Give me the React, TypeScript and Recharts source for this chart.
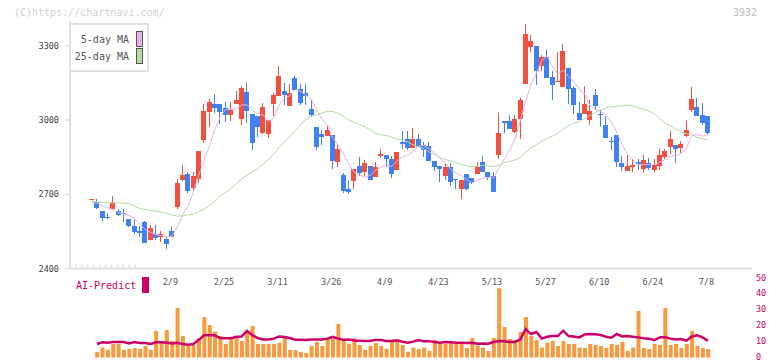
import React from 'react';
import { ComposedChart, Bar, Line, XAxis, YAxis } from 'recharts';

// trading days shown on the chart
const dates = [
  '1/19', '1/20', '1/21', '1/22', '1/23', '1/26', '1/27', '1/28', '1/29', '1/30',
  '2/2', '2/3', '2/4', '2/5', '2/6', '2/9', '2/10', '2/12', '2/13', '2/16',
  '2/17', '2/18', '2/19', '2/20', '2/24', '2/25', '2/26', '2/27', '3/2', '3/3',
  '3/4', '3/5', '3/6', '3/9', '3/10', '3/11', '3/12', '3/13', '3/16', '3/17',
  '3/18', '3/19', '3/23', '3/24', '3/25', '3/26', '3/27', '3/30', '3/31', '4/1',
  '4/2', '4/3', '4/6', '4/7', '4/8', '4/9', '4/10', '4/13', '4/14', '4/15',
  '4/16', '4/17', '4/20', '4/21', '4/22', '4/23', '4/24', '4/27', '4/28', '4/30',
  '5/1', '5/7', '5/8', '5/11', '5/12', '5/13', '5/14', '5/15', '5/18', '5/19',
  '5/20', '5/21', '5/22', '5/25', '5/26', '5/27', '5/28', '5/29', '6/1', '6/2',
  '6/3', '6/4', '6/5', '6/8', '6/9', '6/10', '6/11', '6/12', '6/15', '6/16',
  '6/17', '6/18', '6/19', '6/22', '6/23', '6/24', '6/25', '6/26', '6/29', '6/30',
  '7/1', '7/2', '7/3', '7/6', '7/7', '7/8',
];

const opens = [
  2678, 2670, 2634, 2610, 2641, 2634, 2626, 2600, 2573, 2553,
  2589, 2514, 2541, 2526, 2521, 2552, 2650, 2758, 2782, 2724,
  2762, 2919, 3034, 3066, 3066, 3047, 3020, 3066, 3005, 3113,
  3024, 3017, 2949, 2943, 3066, 3098, 3118, 3056, 3170, 3125,
  3110, 3044, 2972, 2943, 2937, 2941, 2830, 2778, 2721, 2755,
  2813, 2789, 2814, 2771, 2856, 2859, 2843, 2800, 2912, 2923,
  2888, 2923, 2899, 2895, 2834, 2814, 2775, 2810, 2760, 2720,
  2782, 2766, 2783, 2830, 2790, 2774, 2860, 2996, 2996, 2951,
  3003, 3147, 3296, 3299, 3219, 3254, 3174, 3157, 3134, 3210,
  3129, 3028, 3026, 3001, 3101, 3026, 2980, 2916, 2939, 2826,
  2795, 2812, 2832, 2803, 2826, 2799, 2816, 2852, 2892, 2899,
  2888, 2935, 3040, 3052, 3020, 3016,
];

const highs = [
  2681, 2680, 2634, 2623, 2693, 2641, 2641, 2600, 2596, 2573,
  2592, 2575, 2576, 2552, 2529, 2569, 2760, 2818, 2790, 2790,
  2876, 3063, 3083, 3106, 3066, 3071, 3071, 3117, 3138, 3149,
  3024, 3017, 3070, 3000, 3110, 3219, 3151, 3145, 3179, 3145,
  3145, 3081, 2972, 2960, 2978, 2941, 2899, 2787, 2758, 2802,
  2852, 2838, 2814, 2830, 2883, 2859, 2855, 2871, 2957, 2955,
  2968, 2945, 2912, 2912, 2834, 2814, 2828, 2828, 2760, 2758,
  2782, 2766, 2830, 2855, 2790, 2790, 3028, 2996, 3019, 3020,
  3087, 3387, 3343, 3299, 3262, 3283, 3198, 3276, 3308, 3210,
  3137, 3073, 3137, 3081, 3124, 3040, 3016, 2933, 2939, 2855,
  2859, 2842, 2842, 2859, 2847, 2842, 2883, 2883, 2956, 2899,
  2915, 2996, 3132, 3091, 3067, 3016,
];

const lows = [
  2678, 2641, 2593, 2599, 2640, 2614, 2589, 2570, 2538, 2529,
  2503, 2514, 2514, 2509, 2481, 2527, 2640, 2752, 2707, 2717,
  2747, 2906, 2973, 3027, 2986, 2993, 2996, 3066, 2978, 2989,
  2880, 2931, 2943, 2927, 3016, 3098, 3062, 3056, 3122, 3061,
  3059, 3013, 2880, 2899, 2937, 2804, 2810, 2704, 2700, 2723,
  2773, 2773, 2759, 2771, 2848, 2810, 2766, 2800, 2882, 2879,
  2888, 2892, 2852, 2834, 2795, 2751, 2758, 2733, 2720, 2681,
  2717, 2742, 2783, 2789, 2758, 2711, 2844, 2949, 2965, 2947,
  2925, 3147, 3273, 3141, 3200, 3171, 3082, 3154, 3134, 3066,
  3026, 3001, 3026, 2980, 3040, 2973, 2926, 2879, 2812, 2795,
  2795, 2791, 2798, 2787, 2798, 2791, 2798, 2843, 2863, 2828,
  2868, 2932, 3034, 3017, 2980, 2939,
];

const closes = [
  2681, 2646, 2603, 2603, 2663, 2616, 2619, 2573, 2549, 2545,
  2505, 2565, 2522, 2540, 2501, 2529, 2744, 2778, 2715, 2774,
  2876, 3036, 3071, 3050, 3034, 3020, 3040, 3081, 3129, 3038,
  2909, 2972, 3052, 3000, 3101, 3179, 3102, 3109, 3122, 3070,
  3098, 3022, 2892, 2933, 2960, 2834, 2883, 2715, 2711, 2802,
  2786, 2826, 2759, 2810, 2863, 2843, 2783, 2871, 2902, 2888,
  2923, 2892, 2879, 2834, 2812, 2803, 2809, 2751, 2756, 2758,
  2721, 2747, 2810, 2789, 2771, 2711, 2947, 2989, 2965, 3004,
  3081, 3348, 3319, 3200, 3254, 3171, 3143, 3159, 3278, 3126,
  3062, 3001, 3064, 3036, 3056, 3019, 2929, 2913, 2832, 2812,
  2814, 2818, 2824, 2838, 2808, 2818, 2859, 2875, 2923, 2884,
  2903, 2960, 3085, 3017, 2989, 2946,
];

const ma5 = [
  2668, 2665, 2655, 2645, 2639, 2626, 2621, 2615, 2604, 2580,
  2558, 2547, 2537, 2535, 2527, 2531, 2567, 2618, 2653, 2708,
  2777, 2836, 2894, 2961, 3013, 3042, 3043, 3045, 3061, 3062,
  3039, 3026, 3020, 2994, 3007, 3061, 3087, 3098, 3123, 3116,
  3100, 3084, 3041, 3003, 2981, 2928, 2900, 2865, 2821, 2789,
  2779, 2768, 2777, 2797, 2809, 2820, 2812, 2834, 2852, 2857,
  2873, 2895, 2897, 2883, 2868, 2844, 2827, 2802, 2786, 2775,
  2759, 2747, 2758, 2765, 2768, 2766, 2806, 2841, 2877, 2923,
  2997, 3077, 3143, 3190, 3240, 3258, 3217, 3185, 3201, 3175,
  3154, 3125, 3106, 3058, 3044, 3035, 3021, 2991, 2950, 2901,
  2860, 2838, 2820, 2821, 2820, 2821, 2829, 2840, 2853, 2858,
  2864, 2885, 2937, 2941, 2935, 2942,
];

const ma25 = [
  2672, 2670, 2667, 2666, 2666, 2666, 2665, 2662, 2652, 2643,
  2638, 2635, 2632, 2628, 2623, 2617, 2612, 2613, 2617, 2620,
  2628, 2640, 2655, 2673, 2694, 2707, 2723, 2742, 2763, 2778,
  2790, 2804, 2823, 2841, 2863, 2890, 2912, 2935, 2959, 2981,
  3004, 3015, 3020, 3028, 3036, 3034, 3028, 3014, 3000, 2991,
  2982, 2973, 2960, 2947, 2940, 2938, 2930, 2923, 2919, 2911,
  2900, 2892, 2883, 2871, 2861, 2849, 2841, 2835, 2828, 2820,
  2815, 2810, 2814, 2817, 2815, 2812, 2817, 2827, 2833, 2838,
  2848, 2870, 2888, 2900, 2915, 2925, 2935, 2946, 2964, 2976,
  2987, 2994, 3007, 3018, 3030, 3042, 3049, 3053, 3055, 3057,
  3061, 3056, 3049, 3044, 3036, 3026, 3006, 2988, 2977, 2963,
  2952, 2944, 2942, 2930, 2925, 2920,
];

const volume = [
  null, 3.6, 6.5, 5.0, 8.6, 8.6, 5.0, 5.5, 6.1, 5.7,
  7.3, 5.0, 16.8, 9.4, 17.4, 10.5, 31.3, 13.6, 7.6, 8.0,
  12.4, 25.6, 20.6, 16.4, 13.6, 8.6, 12.8, 13.2, 10.5, 16.4,
  19.9, 8.6, 8.6, 8.6, 8.6, 9.4, 12.6, 4.8, 4.8, 3.6,
  2.9, 7.3, 10.1, 7.3, 11.8, 12.2, 21.2, 11.1, 8.6, 12.2,
  8.0, 5.0, 7.3, 9.2, 7.3, 5.6, 10.1, 11.1, 8.0, 3.8,
  6.5, 5.5, 6.5, 4.2, 11.1, 8.6, 8.6, 10.1, 8.6, 8.6,
  6.1, 12.4, 7.6, 6.5, 4.2, 12.4, 43.7, 19.3, 11.8, 11.1,
  16.2, 25.6, 13.6, 11.1, 6.5, 9.4, 10.7, 7.3, 10.5, 8.6,
  8.6, 6.5, 6.1, 8.6, 8.0, 7.3, 6.1, 8.6, 8.0, 10.1,
  4.2, 6.5, 29.4, 6.1, 5.5, 8.6, 8.0, 31.3, 8.0, 8.6,
  6.1, 8.6, 16.8, 7.3, 6.1, 5.5,
];

const predict = [
  null, 8.6, 9.7, 9.4, 9.9, 9.9, 9.9, 9.0, 9.9, 9.2,
  9.2, 8.6, 9.7, 9.7, 9.4, 9.0, 9.4, 8.6, 8.2, 8.6,
  11.1, 14.1, 14.1, 14.1, 12.4, 12.2, 12.2, 13.2, 13.4, 16.8,
  14.3, 12.4, 11.5, 11.5, 12.0, 13.4, 13.0, 12.4, 11.3, 11.3,
  11.1, 11.5, 11.5, 11.5, 12.0, 13.2, 12.0, 11.3, 11.5, 10.9,
  10.7, 10.5, 10.7, 11.1, 11.1, 10.5, 10.5, 10.9, 10.1, 9.4,
  10.1, 11.1, 10.3, 10.3, 9.9, 9.4, 9.9, 9.7, 9.4, 9.4,
  9.2, 9.4, 8.8, 9.0, 8.8, 9.9, 10.5, 10.3, 9.9, 9.9,
  11.5, 18.1, 14.9, 16.2, 12.0, 13.2, 13.6, 13.6, 17.0, 13.6,
  13.4, 12.8, 14.7, 14.9, 14.7, 14.3, 13.2, 12.6, 14.9, 13.4,
  13.6, 13.2, 12.8, 12.2, 12.0, 11.1, 12.8, 13.0, 12.0, 11.5,
  11.8, 10.7, 13.4, 14.1, 12.8, 10.7,
];

const dateTicks = [15, 25, 35, 45, 55, 65, 75, 85, 95, 105, 115];
const gridTicks = [0, 1, 2, 3, 4, 5, 6, 7, 8, 9, 10, 11];
const priceTicks = [2400, 2700, 3000, 3300];
const predictTicks = [0, 10, 20, 30, 40, 50];

const rows = dates.map((date, i) => ({
  i,
  date,
  open: opens[i],
  high: highs[i],
  low: lows[i],
  close: closes[i],
  ma5: ma5[i],
  ma25: ma25[i],
  vol: volume[i],
  ai: predict[i],
}));

const FONT = '"DejaVu Sans Mono", monospace';
const RED = '#f05040';
const BLUE = '#4080f0';
const AXIS = '#e0e0e0';
const CRIMSON = '#cc0066';
const X_DOMAIN: [number, number] = [-4.011, 123.228];

const Candle = (props: any) => {
  const { x, y, width, height, payload } = props;
  if (!payload) return null;
  const { open, close, high, low } = payload;
  const top = Math.min(y, y + height);
  const h = Math.abs(height);
  const cx = x + width / 2;
  const ppu = high > low ? h / (high - low) : 0;
  const yO = top + (high - open) * ppu;
  const yC = top + (high - close) * ppu;
  const color = close >= open ? RED : BLUE;
  const bTop = Math.min(yO, yC);
  const bH = Math.max(Math.abs(yO - yC), 1);
  return (
    <g shapeRendering="crispEdges">
      <rect x={cx - 0.5} y={top} width={1} height={Math.max(h, 1)} fill={color} />
      <rect x={cx - 2.5} y={bTop} width={5} height={bH} fill={color} />
    </g>
  );
};

const DateTick = (props: any) => {
  const { x, y, payload } = props;
  return (
    <text x={x - 1.5} y={y + 16.5} textAnchor="middle" fontSize={8.5} fill="#555" fontFamily={FONT}>
      {dates[payload.value]}
    </text>
  );
};

const GridTick = (props: any) => {
  const { x, y } = props;
  return <line x1={x} x2={x} y1={y - 4} y2={y} stroke={AXIS} strokeWidth={1.5} />;
};

const PredictTick = (props: any) => {
  const { x, y, payload } = props;
  return (
    <text x={x} y={y + 2.2} textAnchor="start" fontSize={8.5} fill={CRIMSON} fontFamily={FONT}>
      {payload.value}
    </text>
  );
};

const App: React.FC = () => {
  return (
    <div style={{ position: 'absolute', left: 0, top: 0, width: 772, height: 361, background: '#fff', overflow: 'hidden', fontFamily: FONT }}>
      <div style={{ position: 'absolute', left: 0, top: 0 }}>
        <ComposedChart width={772} height={300} data={rows} margin={{ top: 21, right: 20, bottom: 31.38, left: 0 }}>
          <XAxis
            xAxisId="grid"
            type="number"
            domain={[0, 11]}
            ticks={gridTicks}
            interval={0}
            allowDataOverflow
            height={0.01}
            tickSize={0}
            tickMargin={0}
            tickLine={false}
            axisLine={{ stroke: AXIS, strokeWidth: 2 }}
            tick={<GridTick />}
          />
          <XAxis
            dataKey="i"
            type="number"
            domain={X_DOMAIN}
            ticks={dateTicks}
            interval={0}
            allowDataOverflow
            height={0.01}
            tickSize={0}
            tickMargin={0}
            tickLine={false}
            axisLine={false}
            tick={<DateTick />}
          />
          <YAxis
            type="number"
            domain={[2400, 3400]}
            ticks={priceTicks}
            interval={0}
            allowDataOverflow
            width={70}
            tickSize={5}
            tickMargin={6}
            axisLine={{ stroke: AXIS, strokeWidth: 2 }}
            tickLine={{ stroke: AXIS, strokeWidth: 1.5 }}
            tick={{ fontSize: 8.5, fill: '#444', fontFamily: FONT }}
          />
          <Line dataKey="ma25" type="linear" stroke="#b2d9a2" strokeWidth={1} dot={false} isAnimationActive={false} />
          <Line dataKey="ma5" type="linear" stroke="#e6b0e6" strokeWidth={1} dot={false} isAnimationActive={false} />
          <Bar
            dataKey={(r: any) => [r.low, r.high]}
            barSize={5}
            shape={Candle}
            isAnimationActive={false}
          />
        </ComposedChart>
      </div>

      <div style={{ position: 'absolute', left: 0, top: 270 }}>
        <ComposedChart width={772} height={91} data={rows} margin={{ top: 8.3, right: 0, bottom: 3.3, left: 70 }}>
          <XAxis dataKey="i" type="number" domain={X_DOMAIN} allowDataOverflow hide />
          <YAxis
            orientation="right"
            type="number"
            domain={[0, 50]}
            ticks={predictTicks}
            interval={0}
            allowDataOverflow
            width={20}
            tickSize={0}
            tickMargin={4}
            axisLine={false}
            tickLine={false}
            tick={<PredictTick />}
          />
          <Bar dataKey="vol" barSize={4} fill="#f59a3e" isAnimationActive={false} />
          <Line dataKey="ai" type="linear" stroke={CRIMSON} strokeWidth={2.5} dot={false} isAnimationActive={false} />
        </ComposedChart>
      </div>

      <div style={{ position: 'absolute', left: 14, top: 6.5, fontSize: 10, lineHeight: '12px', color: '#cfcfcf', whiteSpace: 'nowrap' }}>
        (C)https://chartnavi.com/
      </div>
      <div style={{ position: 'absolute', right: 15, top: 6.5, fontSize: 10, lineHeight: '12px', color: '#bdbdbd' }}>
        3932
      </div>

      <div style={{ position: 'absolute', left: 69, top: 23, width: 80, height: 49, boxSizing: 'border-box', border: `2px solid ${AXIS}`, background: '#fff', fontSize: 10, color: '#555' }}>
        <span style={{ position: 'absolute', left: 0, top: 9, width: 58, textAlign: 'right', lineHeight: '12px', whiteSpace: 'nowrap' }}>5-day MA</span>
        <span style={{ position: 'absolute', left: 65, top: 6, width: 7, height: 16, boxSizing: 'border-box', border: '1.5px solid #555', background: '#e8b4e8' }} />
        <span style={{ position: 'absolute', left: 0, top: 26, width: 58, textAlign: 'right', lineHeight: '12px', whiteSpace: 'nowrap' }}>25-day MA</span>
        <span style={{ position: 'absolute', left: 65, top: 23, width: 7, height: 16, boxSizing: 'border-box', border: '1.5px solid #555', background: '#b8dca8' }} />
      </div>

      <div style={{ position: 'absolute', left: 76, top: 280, fontSize: 10, lineHeight: '12px', color: CRIMSON, whiteSpace: 'nowrap' }}>
        AI-Predict
      </div>
      <div style={{ position: 'absolute', left: 142, top: 277, width: 7, height: 16, background: CRIMSON }} />
    </div>
  );
};

export default App;
